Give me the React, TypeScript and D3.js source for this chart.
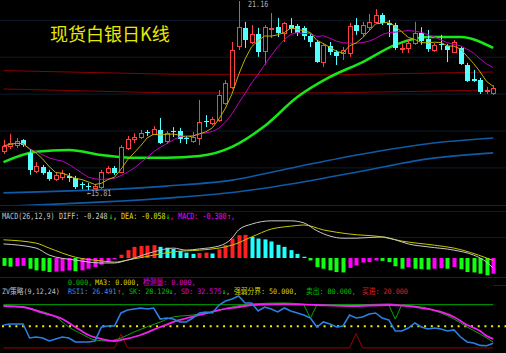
import { useEffect } from 'react';
import * as d3 from 'd3';

// 现货白银 日K
const opens = [16.91, 17.06, 17.08, 17.23, 16.86, 16.35, 16.46, 16.32, 16.12, 16.18, 16.21, 16.15, 15.98, 15.93, 15.87, 15.90, 16.32, 16.43, 16.32, 17.00, 17.25, 17.31, 17.45, 17.40, 17.51, 17.20, 17.48, 17.48, 17.28, 17.20, 17.28, 17.76, 17.71, 17.79, 18.27, 18.73, 19.89, 20.40, 20.00, 20.23, 19.75, 20.37, 20.42, 20.25, 20.48, 20.45, 20.40, 20.17, 20.00, 19.43, 19.89, 19.72, 19.69, 19.69, 20.48, 20.25, 20.42, 20.57, 20.76, 20.54, 20.48, 19.80, 19.83, 19.97, 20.25, 20.08, 19.77, 19.94, 19.89, 19.72, 19.83, 19.35, 18.95, 18.92, 18.61, 18.56];
const highs = [17.23, 17.40, 17.28, 17.25, 16.94, 16.60, 16.52, 16.38, 16.32, 16.38, 16.29, 16.21, 16.04, 16.01, 15.98, 16.38, 16.49, 16.49, 17.08, 17.34, 17.42, 17.51, 17.51, 17.62, 17.85, 17.48, 17.59, 17.57, 17.34, 17.45, 18.36, 17.93, 17.88, 18.64, 18.92, 20.00, 21.16, 20.57, 20.48, 20.40, 20.48, 20.82, 20.68, 20.57, 20.68, 20.51, 20.45, 20.23, 20.06, 19.97, 20.00, 19.77, 19.86, 20.54, 20.68, 20.57, 20.79, 20.93, 20.82, 20.62, 20.54, 19.97, 20.06, 20.57, 20.42, 20.34, 19.97, 20.20, 19.94, 20.06, 19.89, 19.41, 19.21, 18.98, 18.73, 18.78];
const lows = [16.83, 16.97, 17.00, 17.03, 16.24, 16.29, 16.24, 16.07, 16.07, 16.09, 16.04, 15.84, 15.83, 15.81, 15.83, 15.84, 16.27, 16.24, 16.29, 16.94, 17.14, 17.25, 17.34, 17.37, 17.11, 17.11, 17.31, 17.14, 17.11, 17.14, 17.08, 17.59, 17.65, 17.74, 18.22, 18.67, 19.77, 19.83, 19.94, 19.58, 19.35, 20.11, 20.14, 20.00, 20.25, 20.17, 20.06, 19.86, 19.41, 19.29, 19.63, 19.35, 19.49, 19.58, 20.20, 20.14, 20.34, 20.54, 20.48, 20.14, 19.77, 19.69, 19.69, 19.92, 19.92, 19.72, 19.72, 19.77, 19.43, 19.69, 19.35, 18.87, 18.87, 18.53, 18.53, 18.50];
const closes = [17.06, 17.14, 17.20, 17.08, 16.38, 16.49, 16.29, 16.12, 16.24, 16.29, 16.15, 15.90, 15.95, 15.90, 15.93, 16.32, 16.43, 16.29, 17.03, 17.25, 17.31, 17.42, 17.42, 17.54, 17.14, 17.42, 17.45, 17.25, 17.25, 17.31, 17.74, 17.74, 17.82, 18.50, 18.84, 19.77, 20.42, 20.06, 20.23, 19.72, 20.42, 20.40, 20.25, 20.54, 20.37, 20.25, 20.17, 20.00, 19.43, 19.92, 19.72, 19.60, 19.77, 20.45, 20.31, 20.48, 20.57, 20.76, 20.54, 20.48, 19.83, 19.83, 19.97, 20.25, 20.03, 19.80, 19.92, 19.92, 19.77, 20.00, 19.38, 18.90, 18.90, 18.58, 18.64, 18.70];

// long moving averages, sampled at candle indexes
const maGreenIdx = [0, 5, 10, 15, 20, 25, 30, 35, 40, 45, 50, 55, 60, 65, 70, 75];
const maGreenVal = [16.60, 16.89, 16.94, 16.80, 16.72, 16.72, 16.77, 17.03, 17.62, 18.44, 19.01, 19.43, 19.92, 20.14, 20.14, 19.83];
const maRedIdx = [0, 25, 50, 75];
const maRed1 = [19.19, 19.09, 19.07, 19.15];
const maRed2 = [18.67, 18.56, 18.56, 18.64];
const maBlueIdx = [0, 25, 35, 45, 55, 65, 75];
const maBlue1 = [15.73, 15.92, 16.09, 16.47, 16.83, 17.12, 17.28];
const maBlue2 = [15.35, 15.58, 15.74, 16.01, 16.35, 16.69, 16.86];

// MACD(26,12,9)
const macdHist = [-0.19, -0.21, -0.20, -0.19, -0.26, -0.30, -0.31, -0.34, -0.33, -0.32, -0.30, -0.32, -0.30, -0.26, -0.22, -0.16, -0.10, -0.03, 0.08, 0.19, 0.27, 0.29, 0.30, 0.31, 0.27, 0.25, 0.22, 0.17, 0.13, 0.10, 0.12, 0.13, 0.11, 0.21, 0.31, 0.47, 0.55, 0.56, 0.51, 0.47, 0.45, 0.40, 0.32, 0.27, 0.19, 0.10, 0.03, -0.06, -0.22, -0.26, -0.30, -0.34, -0.35, -0.24, -0.18, -0.11, -0.10, -0.06, -0.07, -0.10, -0.20, -0.26, -0.22, -0.26, -0.27, -0.28, -0.26, -0.25, -0.26, -0.22, -0.27, -0.34, -0.35, -0.38, -0.42, -0.38];
const diffIdx = [0, 5, 7, 11, 15, 17, 19, 23, 26, 28, 30, 33, 35, 36, 38, 41, 44, 46, 48, 52, 54, 58, 60, 62, 65, 69, 72, 74, 75];
const diffVal = [0.34, 0.24, 0.07, -0.05, -0.12, -0.12, -0.05, 0.15, 0.24, 0.19, 0.22, 0.29, 0.48, 0.68, 0.82, 0.90, 0.90, 0.85, 0.66, 0.48, 0.48, 0.51, 0.44, 0.34, 0.27, 0.19, 0.07, -0.10, -0.248];
const deaIdx = [0, 5, 7, 11, 15, 17, 19, 23, 26, 30, 33, 35, 38, 41, 44, 46, 49, 53, 58, 61, 66, 69, 74, 75];
const deaVal = [0.44, 0.36, 0.24, 0.02, -0.07, -0.10, -0.05, 0.07, 0.15, 0.19, 0.24, 0.31, 0.51, 0.70, 0.77, 0.80, 0.68, 0.58, 0.51, 0.41, 0.31, 0.24, 0.00, -0.058];

// ZV策略(9,12,24)
const rsi1 = [51.8, 53.2, 53.2, 53.2, 33.8, 35.1, 33.8, 29.6, 32.4, 35.1, 33.8, 28.2, 28.2, 28.2, 29.6, 49.0, 50.4, 50.4, 68.5, 72.6, 74.0, 75.4, 74.0, 75.4, 60.1, 61.5, 60.1, 56.0, 56.0, 61.5, 68.5, 69.9, 68.5, 79.6, 85.1, 87.9, 92.1, 82.4, 82.4, 71.3, 76.8, 74.0, 69.9, 75.4, 71.3, 68.5, 65.7, 61.5, 49.0, 56.0, 53.2, 49.0, 50.4, 65.7, 61.5, 62.9, 67.1, 68.5, 61.5, 58.8, 43.5, 43.5, 47.6, 54.6, 49.0, 46.3, 47.6, 46.3, 43.5, 44.9, 35.1, 28.2, 26.8, 23.5, 23.0, 26.491];
const skIdx = [0, 3, 5, 8, 10, 12, 14, 16, 18, 20, 24, 26, 29, 32, 35, 38, 43, 48, 53, 59, 62, 64, 67, 69, 71, 73, 75];
const skVal = [78.2, 76.8, 72.6, 62.9, 49.0, 39.3, 31.0, 29.6, 33.8, 42.1, 56.0, 62.9, 65.7, 69.9, 76.8, 81.0, 82.4, 79.6, 79.6, 81.0, 78.2, 76.8, 68.5, 60.1, 49.0, 39.3, 28.129];
const sdIdx = [0, 3, 6, 9, 11, 13, 15, 17, 18, 21, 24, 27, 30, 33, 36, 38, 43, 48, 53, 59, 62, 64, 67, 69, 71, 73, 74, 75];
const sdVal = [78.2, 76.8, 68.5, 60.1, 49.0, 37.9, 32.4, 29.6, 31.0, 37.9, 49.0, 58.8, 65.7, 72.6, 76.8, 79.6, 81.0, 79.6, 78.2, 79.6, 78.2, 75.4, 69.9, 62.9, 51.8, 43.5, 36.5, 32.575];
const sellIdx = [0, 46, 47, 48, 59, 60, 61, 75];
const sellVal = [80, 80, 61, 80, 80, 60, 80, 80];
const buyIdx = [0, 17, 18, 19, 53, 54, 55, 75];
const buyVal = [20, 20, 39, 20, 20, 40, 20, 20];
const midLevel = 50;

const W = 506;
const H = 353;
const N = closes.length;
const MONO = '"DejaVu Sans Mono", "Noto Sans CJK SC", monospace';
const CHAR_W = 4.05; // the pixel font of the reference is narrow

const x = d3.scaleLinear().domain([0, N - 1]).range([3.5, 493.2]);
const py = d3.scaleLinear().domain([15.81, 21.16]).range([190, 1]);
const my = d3.scaleLinear().domain([0, 1]).range([258, 216.7]);
const zy = d3.scaleLinear().domain([20, 80]).range([347.9, 304.7]);

const movingAvg = (n: number) =>
  closes.map((_, i) => d3.mean(closes.slice(Math.max(0, i - n + 1), i + 1)) as number);

const zip = (idx: number[], val: number[]) => idx.map((d, i) => [d, val[i]] as [number, number]);

const pathOf = (pts: [number, number][], yScale: any, curve: any = d3.curveMonotoneX) =>
  d3.line<[number, number]>().x((d) => x(d[0])).y((d) => yScale(d[1])).curve(curve)(pts) || '';

const RED = '#ff4040';
const CYAN = '#54ffff';
const GRID = '#0c1a2a';
const SEP = '#13263a';

// one narrow text line made of coloured pieces: [x, colour, text]
const InfoLine = ({ y, size = 8.5, parts }: { y: number; size?: number; parts: [number, string, string][] }) => {
  const sx = CHAR_W / (0.602 * size);
  return (
    <text y={y} fontSize={size} fontFamily={MONO} transform={`scale(${sx},1)`}>
      {parts.map(([px, fill, t], i) => (
        <tspan key={i} x={px / sx} fill={fill}>
          {t}
        </tspan>
      ))}
    </text>
  );
};

function Candles() {
  return (
    <g>
      {closes.map((c, i) => {
        const o = opens[i];
        const cx = Math.round(x(i));
        const top = Math.round(py(Math.max(o, c)));
        const bot = Math.round(py(Math.min(o, c)));
        const hi = py(highs[i]);
        const lo = py(lows[i]);
        if (c >= o) {
          return (
            <g key={i} stroke={RED} strokeWidth={1} fill="#000">
              <line x1={cx + 0.5} x2={cx + 0.5} y1={hi} y2={top} />
              <line x1={cx + 0.5} x2={cx + 0.5} y1={bot} y2={lo} />
              <rect x={cx - 1.5} y={top + 0.5} width={4} height={Math.max(bot - top, 0.5)} />
            </g>
          );
        }
        return (
          <g key={i}>
            <line x1={cx + 0.5} x2={cx + 0.5} y1={hi} y2={lo} stroke={CYAN} strokeWidth={1} />
            <rect x={cx - 2} y={top} width={5} height={Math.max(bot - top, 1)} fill={CYAN} />
          </g>
        );
      })}
    </g>
  );
}

function histColor(i: number) {
  const v = macdHist[i];
  const prev = i > 0 ? macdHist[i - 1] : v;
  if (v >= 0) return v >= prev ? '#ff2020' : '#22ffff';
  return v <= prev ? '#11ff11' : '#ff00ff';
}

export default function App() {
  useEffect(() => {
    document.body.style.margin = '0';
    document.body.style.background = '#000';
  }, []);

  const ma5 = movingAvg(5).map((v, i) => [i, v] as [number, number]);
  const ma10 = movingAvg(10).map((v, i) => [i, v] as [number, number]);
  const gridYs = [20.3, 57.2, 94.1, 131, 167.9];

  return (
    <svg width={W} height={H} style={{ position: 'absolute', left: 0, top: 0, background: '#000' }}>
      <defs>
        <clipPath id="mainClip">
          <rect x={0} y={0} width={W} height={205} />
        </clipPath>
        <clipPath id="macdClip">
          <rect x={0} y={207} width={W} height={70} />
        </clipPath>
      </defs>
      <rect width={W} height={H} fill="#000" />

      {/* main panel */}
      {gridYs.map((g) => (
        <line key={g} x1={0} x2={W} y1={g} y2={g} stroke={GRID} />
      ))}
      <line x1={0} x2={W} y1={205.5} y2={205.5} stroke={SEP} />
      <g clipPath="url(#mainClip)" fill="none">
        <path d={pathOf(zip(maBlueIdx, maBlue1), py)} stroke="#0f5aa6" strokeWidth={1.6} />
        <path d={pathOf(zip(maBlueIdx, maBlue2), py)} stroke="#0f5aa6" strokeWidth={1.6} />
        <path d={pathOf(zip(maRedIdx, maRed1), py, d3.curveLinear)} stroke="#8a0000" strokeWidth={1} />
        <path d={pathOf(zip(maRedIdx, maRed2), py, d3.curveLinear)} stroke="#8a0000" strokeWidth={1} />
        <path d={pathOf(zip(maGreenIdx, maGreenVal), py)} stroke="#18e818" strokeWidth={2.5} />
        <Candles />
        <path d={pathOf(ma10, py, d3.curveLinear)} stroke="#c000c0" strokeWidth={1} />
        <path d={pathOf(ma5, py, d3.curveLinear)} stroke="#c0b000" strokeWidth={1} />
      </g>
      <text x={50} y={41} fill="#e8e800" fontSize={18} fontFamily='"Noto Sans CJK SC", sans-serif'>
        现货白银日K线
      </text>
      <InfoLine y={6.5} parts={[[248, '#b0b0b0', '21.16']]} />
      <InfoLine y={196} parts={[[87, '#b0b0b0', '←15.81']]} />

      {/* MACD panel */}
      <line x1={0} x2={W} y1={211.5} y2={211.5} stroke={GRID} />
      <line x1={0} x2={W} y1={237.5} y2={237.5} stroke={GRID} />
      <g clipPath="url(#macdClip)">
        {macdHist.map((v, i) => {
          const cx = Math.round(x(i));
          const y0 = my(0);
          const y1 = my(v);
          return (
            <rect key={i} x={cx - 1.5} y={Math.min(y0, y1)} width={4} height={Math.max(Math.abs(y1 - y0), 0.8)} fill={histColor(i)} />
          );
        })}
        <path d={pathOf(zip(deaIdx, deaVal), my)} fill="none" stroke="#c8c800" strokeWidth={1} />
        <path d={pathOf(zip(diffIdx, diffVal), my)} fill="none" stroke="#c8c8c8" strokeWidth={1} />
      </g>
      <InfoLine
        y={219}
        parts={[
          [2, '#c0c0c0', 'MACD(26,12,9)'],
          [59, '#d0d0d0', 'DIFF: -0.248'],
          [109, '#11ff11', '↓'],
          [113, '#e0e000', ', DEA: -0.058'],
          [166, '#11ff11', '↓'],
          [170, '#ff00ff', ', MACD: -0.380'],
          [227, '#ff3030', '↑'],
          [231, '#ff00ff', ','],
        ]}
      />

      {/* ZV panel */}
      <line x1={0} x2={W} y1={277.5} y2={277.5} stroke={SEP} />
      <line x1={493} x2={W} y1={285.5} y2={285.5} stroke={SEP} />
      <InfoLine
        y={285}
        size={7.5}
        parts={[
          [68, '#00c000', '0.000,'],
          [95, '#d8d800', 'MA3: 0.000,'],
          [143, '#e000e0', '检测量: 0.000,'],
        ]}
      />
      <line x1={0} x2={W} y1={zy(midLevel)} y2={zy(midLevel)} stroke="#f0f000" strokeWidth={2} strokeDasharray="2,4.7" strokeDashoffset={-2} />
      <g fill="none">
        <path d={pathOf(zip(buyIdx, buyVal), zy, d3.curveLinear)} stroke="#a00000" strokeWidth={1} />
        <path d={pathOf(zip(sellIdx, sellVal), zy, d3.curveLinear)} stroke="#00a800" strokeWidth={1} />
        <path d={pathOf(zip(skIdx, skVal), zy)} stroke="#10a010" strokeWidth={1} />
        <path d={pathOf(zip(sdIdx, sdVal), zy)} stroke="#f020f0" strokeWidth={1.8} />
        <path d={pathOf(rsi1.map((v, i) => [i, v] as [number, number]), zy, d3.curveLinear)} stroke="#2a80e0" strokeWidth={1.6} />
      </g>
      <InfoLine
        y={294.5}
        size={7.5}
        parts={[
          [2, '#c0c0c0', 'ZV策略(9,12,24)'],
          [68, '#3a8ee6', 'RSI1: 26.491'],
          [117, '#ff3030', '↑'],
          [121, '#00c000', ', SK: 28.129'],
          [169, '#11ff11', '↓'],
          [173, '#e000e0', ', SD: 32.575'],
          [222, '#11ff11', '↓'],
          [226, '#d8d800', ', 强弱分界: 50.000,'],
          [306, '#00c000', '卖出: 80.000,'],
          [362, '#e02020', '买进: 20.000'],
        ]}
      />
    </svg>
  );
}
